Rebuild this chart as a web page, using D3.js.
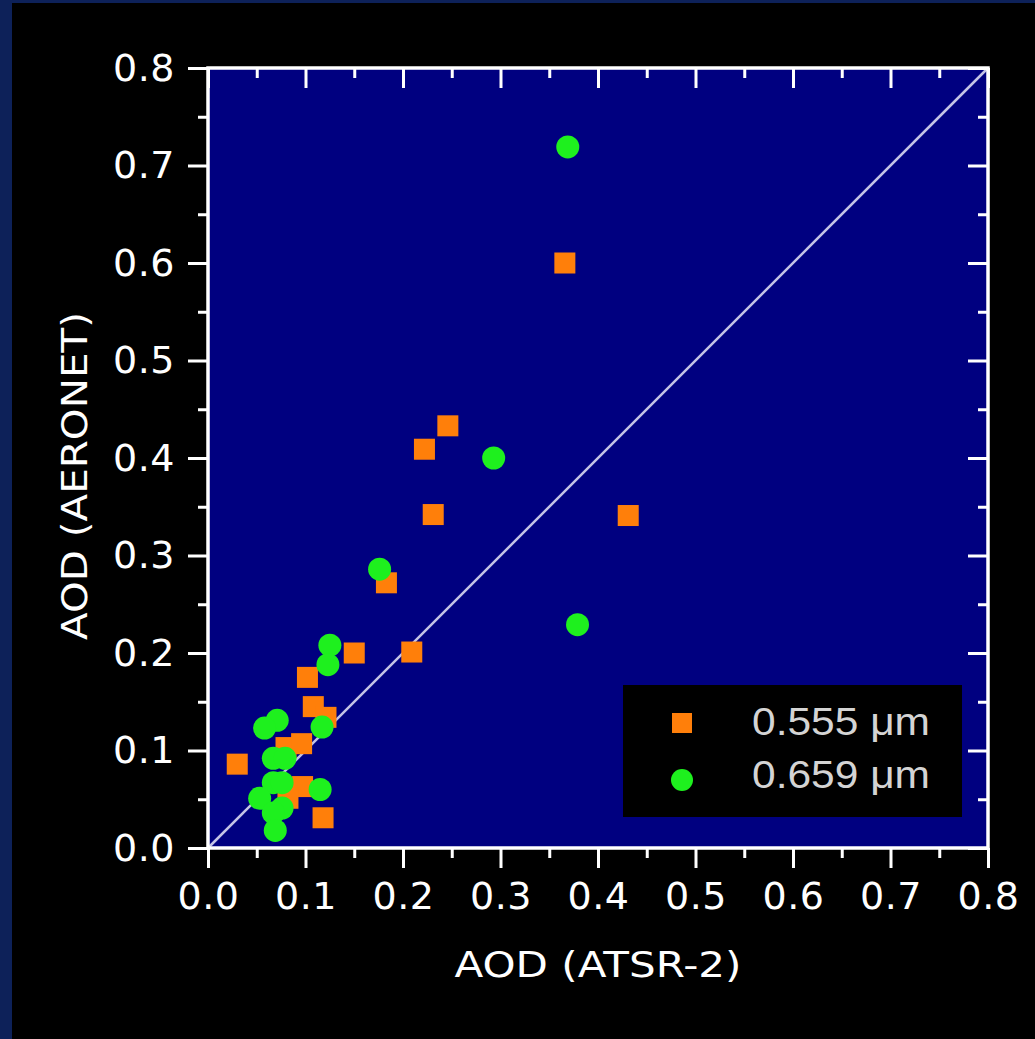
<!DOCTYPE html>
<html>
<head>
<meta charset="utf-8">
<script src="https://cdn.jsdelivr.net/npm/d3@7"></script>
<style>
  body { margin: 0; background: #0d2159; }
  #svg-container { width: 1035px; height: 1039px; }
</style>
</head>
<body>
<div id="svg-container"></div>
<script>
// data (x = ATSR-2, y = AERONET)
const orangeX = [0.366, 0.246, 0.222, 0.231, 0.431, 0.183, 0.150, 0.209, 0.102, 0.030, 0.108, 0.121, 0.080, 0.096, 0.097, 0.082, 0.118];
const orangeY = [0.600, 0.433, 0.409, 0.342, 0.341, 0.272, 0.200, 0.201, 0.175, 0.086, 0.145, 0.134, 0.103, 0.107, 0.063, 0.051, 0.031];
const greenX = [0.369, 0.293, 0.176, 0.379, 0.125, 0.123, 0.071, 0.058, 0.117, 0.067, 0.079, 0.067, 0.076, 0.053, 0.115, 0.076, 0.067, 0.069];
const greenY = [0.719, 0.400, 0.286, 0.229, 0.208, 0.188, 0.131, 0.123, 0.124, 0.092, 0.092, 0.067, 0.067, 0.051, 0.060, 0.041, 0.036, 0.018];
const majorTicks = [0, 0.1, 0.2, 0.3, 0.4, 0.5, 0.6, 0.7, 0.8];
const minorTicks = [0.05, 0.15, 0.25, 0.35, 0.45, 0.55, 0.65, 0.75];
const legendLabels = ['0.555 \u03bcm', '0.659 \u03bcm'];

const svgWidth = 1035;
const svgHeight = 1039;
const margin = { left: 208, top: 68 };
const size = 780;

const svg = d3.select('#svg-container')
.append('svg')
.attr('width', svgWidth)
.attr('height', svgHeight);

// black panel inside the blue frame
svg.append('rect')
.attr('x', 12).attr('y', 3)
.attr('width', svgWidth - 12).attr('height', svgHeight - 3)
.attr('fill', '#000');

const g = svg.append('g')
.attr('transform', `translate(${margin.left}, ${margin.top})`);

const x = d3.scaleLinear().domain([0, 0.8]).range([0, size]);
const y = d3.scaleLinear().domain([0, 0.8]).range([size, 0]);

// plot background
g.append('rect')
.attr('width', size).attr('height', size)
.attr('fill', '#000080');

// 1:1 line
g.append('line')
.attr('x1', x(0)).attr('y1', y(0))
.attr('x2', x(0.8)).attr('y2', y(0.8))
.attr('stroke', '#c4c4e6')
.attr('stroke-width', 2.5);

// orange squares first, green circles on top
const sq = 21;
g.append('g')
.selectAll('rect')
.data(orangeX.map((d, i) => [d, orangeY[i]]))
.enter()
.append('rect')
.attr('x', (d) => x(d[0]) - sq / 2)
.attr('y', (d) => y(d[1]) - sq / 2)
.attr('width', sq).attr('height', sq)
.attr('fill', '#ff7f0a');

g.append('g')
.selectAll('circle')
.data(greenX.map((d, i) => [d, greenY[i]]))
.enter()
.append('circle')
.attr('cx', (d) => x(d[0]))
.attr('cy', (d) => y(d[1]))
.attr('r', 11.5)
.attr('fill', '#1ef01e');

// axes
const styleAxis = (sel) => {
    sel.select('.domain').remove();
    sel.selectAll('line').attr('stroke', '#fff').attr('stroke-width', 3);
    sel.selectAll('text')
    .attr('fill', '#fff')
    .attr('font-family', 'DejaVu Sans, Verdana, sans-serif')
    .attr('font-size', 38)
    .attr('letter-spacing', 0.5);
};

g.append('g').attr('transform', `translate(0, ${size})`)
.call(d3.axisBottom(x).tickValues(majorTicks).tickSize(20).tickPadding(14).tickFormat(d3.format('.1f')))
.call(styleAxis);
g.append('g').attr('transform', `translate(0, ${size})`)
.call(d3.axisBottom(x).tickValues(minorTicks).tickSize(10).tickFormat(''))
.call(styleAxis);

g.append('g')
.call(d3.axisLeft(y).tickValues(majorTicks).tickSize(20).tickPadding(13).tickFormat(d3.format('.1f')))
.call(styleAxis);
g.append('g')
.call(d3.axisLeft(y).tickValues(minorTicks).tickSize(10).tickFormat(''))
.call(styleAxis);

// mirrored ticks pointing inward
g.append('g')
.call(d3.axisTop(x).tickValues(majorTicks).tickSize(-20).tickFormat(''))
.call(styleAxis);
g.append('g')
.call(d3.axisTop(x).tickValues(minorTicks).tickSize(-10).tickFormat(''))
.call(styleAxis);
g.append('g').attr('transform', `translate(${size}, 0)`)
.call(d3.axisRight(y).tickValues(majorTicks).tickSize(-20).tickFormat(''))
.call(styleAxis);
g.append('g').attr('transform', `translate(${size}, 0)`)
.call(d3.axisRight(y).tickValues(minorTicks).tickSize(-10).tickFormat(''))
.call(styleAxis);

// frame
g.append('rect')
.attr('width', size).attr('height', size)
.attr('fill', 'none')
.attr('stroke', '#fff')
.attr('stroke-width', 3.5);

// axis titles
g.append('text')
.attr('x', size / 2)
.attr('y', 909)
.attr('text-anchor', 'middle')
.attr('fill', '#fff')
.attr('font-family', 'DejaVu Sans, Verdana, sans-serif')
.attr('font-size', 35)
.attr('textLength', 287)
.attr('lengthAdjust', 'spacingAndGlyphs')
.text('AOD (ATSR-2)');

g.append('text')
.attr('transform', `translate(-121, ${408}) rotate(-90)`)
.attr('text-anchor', 'middle')
.attr('fill', '#fff')
.attr('font-family', 'DejaVu Sans, Verdana, sans-serif')
.attr('font-size', 35)
.attr('textLength', 328)
.attr('lengthAdjust', 'spacingAndGlyphs')
.text('AOD (AERONET)');

// legend
const legend = svg.append('g').attr('transform', 'translate(623, 685)');
legend.append('rect')
.attr('width', 339).attr('height', 132)
.attr('fill', '#000');
legend.append('rect')
.attr('x', 49).attr('y', 28)
.attr('width', 20).attr('height', 20)
.attr('fill', '#ff7f0a');
legend.append('circle')
.attr('cx', 59).attr('cy', 95)
.attr('r', 11)
.attr('fill', '#1ef01e');
legend.selectAll('text')
.data(legendLabels)
.enter()
.append('text')
.attr('x', 129)
.attr('y', (d, i) => 50 + i * 53)
.attr('fill', '#d4d4d4')
.attr('font-family', 'Liberation Sans, Arial, sans-serif')
.attr('font-size', 39)
.attr('textLength', 178)
.attr('lengthAdjust', 'spacingAndGlyphs')
.text((d) => d);
</script>
</body>
</html>
